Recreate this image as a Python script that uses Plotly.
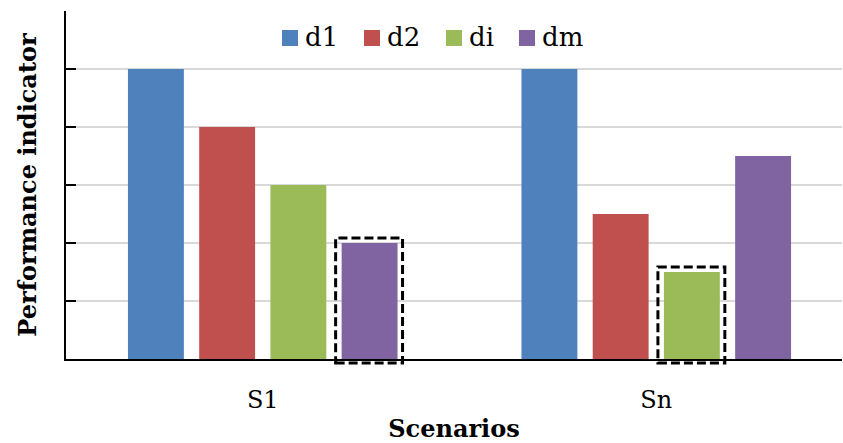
import plotly.graph_objects as go

# Data
scenarios = ["S1", "Sn"]
series_names = ["d1", "d2", "di", "dm"]
d1 = [5, 5]
d2 = [4, 2.5]
di = [3, 1.5]
dm = [2, 3.5]
colors = ["#4f81bd", "#c0504d", "#9bbb59", "#8064a2"]
# (series, scenario) pairs that get a dashed highlight frame
highlighted = [("dm", "S1"), ("di", "Sn")]

values = {"d1": d1, "d2": d2, "di": di, "dm": dm}
xpos = list(range(len(scenarios)))

FONT = "DejaVu Serif"
W, H = 843, 443
ML, MR, MT, MB = 66, 1, 11, 84
BARGAP, GROUPGAP = 0.276, 0.215
XMIN, XMAX = -0.5, 1.472
YMAX = 6

fig = go.Figure()
for name, col in zip(series_names, colors):
    fig.add_trace(go.Bar(
        x=xpos, y=values[name], name=name, marker_color=col,
        marker_line_width=0, showlegend=False,
    ))

# Highlight frames, placed from the bar geometry of the grouped layout
# (paper coordinates so the frame can run past the axis line)
plot_w = W - ML - MR
plot_h = H - MT - MB
n = len(series_names)
slot = (1 - BARGAP) / n
bar_w = slot * (1 - GROUPGAP)


def xp(x):
    return (x - XMIN) / (XMAX - XMIN)


for sname, scen in highlighted:
    k = series_names.index(sname)
    ci = scenarios.index(scen)
    center = xpos[ci] - (1 - BARGAP) / 2 + slot * (k + 0.5)
    v = values[sname][ci]
    fig.add_shape(
        type="rect", xref="paper", yref="paper",
        x0=xp(center - bar_w / 2) - 6 / plot_w,
        x1=xp(center + bar_w / 2) + 5 / plot_w,
        y0=-4 / plot_h, y1=v / YMAX + 5 / plot_h,
        line=dict(color="black", width=3, dash="9px,4px"),
        fillcolor="rgba(0,0,0,0)", layer="above",
    )

# Legend row across the top of the plot
leg_x = [282, 364, 446, 519]
leg_y0, leg_y1 = 30, 46
for name, col, lx in zip(series_names, colors, leg_x):
    fig.add_shape(
        type="rect", xref="paper", yref="paper",
        x0=(lx - ML) / plot_w, x1=(lx + 16 - ML) / plot_w,
        y0=(H - MB - leg_y1) / plot_h, y1=(H - MB - leg_y0) / plot_h,
        fillcolor=col, line_width=0, layer="above",
    )
    fig.add_annotation(
        xref="paper", yref="paper", x=(lx + 21 - ML) / plot_w,
        y=(H - MB - 37) / plot_h, text=name, showarrow=False,
        xanchor="left", yanchor="middle",
        font=dict(family=FONT, size=26, color="black"),
    )

fig.update_layout(
    width=W, height=H,
    margin=dict(l=ML, r=MR, t=MT, b=MB),
    paper_bgcolor="white", plot_bgcolor="white",
    barmode="group", bargap=BARGAP, bargroupgap=GROUPGAP,
    font=dict(family=FONT, color="black"),
    xaxis=dict(
        range=[XMIN, XMAX], tickvals=xpos, ticktext=scenarios,
        showgrid=False, zeroline=False, showline=True,
        linecolor="black", linewidth=2, ticks="",
        ticklabelstandoff=18,
        tickfont=dict(family=FONT, size=24, color="black"),
        title=dict(text="<b>Scenarios</b>", standoff=7,
                   font=dict(family=FONT, size=24, color="black")),
    ),
    yaxis=dict(
        range=[0, YMAX], dtick=1, showticklabels=False,
        showgrid=True, gridcolor="#d9d9d9", gridwidth=2,
        zeroline=False, showline=True, linecolor="black", linewidth=2,
        ticks="inside", ticklen=10, tickwidth=2, tickcolor="black",
        title=dict(text="<b>Performance indicator</b>", standoff=21,
                   font=dict(family=FONT, size=24, color="black")),
    ),
)

fig.write_html("out.html")
